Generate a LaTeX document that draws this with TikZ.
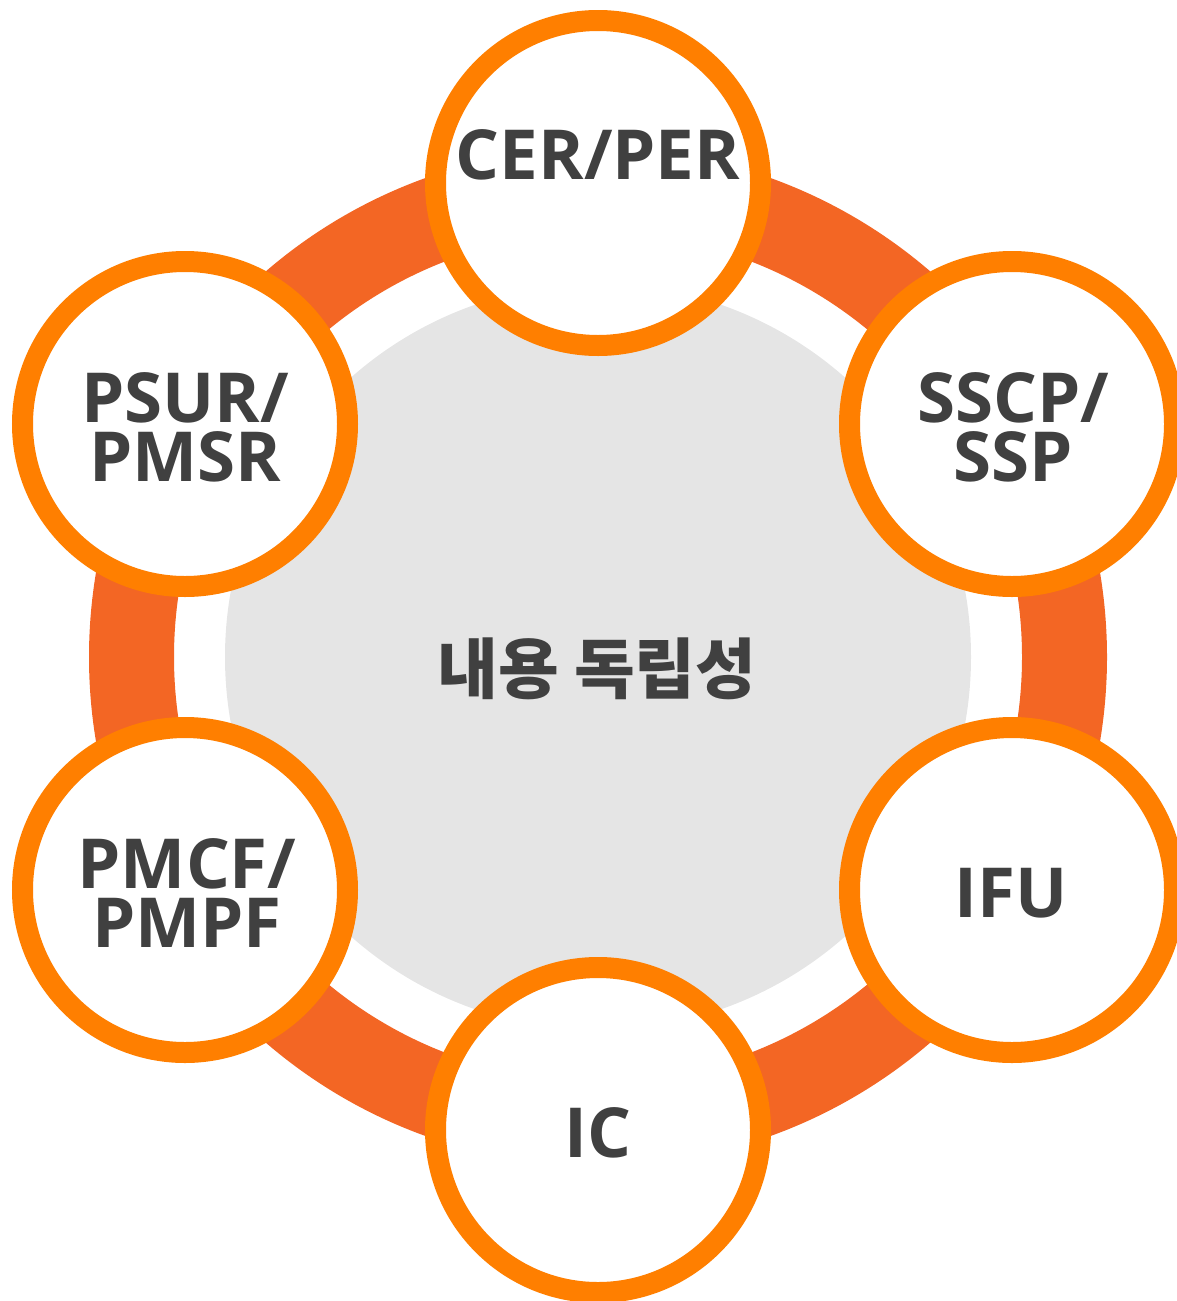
\documentclass[tikz,border=0pt]{standalone}
\usepackage{fontspec}
\setmainfont{Open Sans}
\newfontfamily\krfont{Noto Sans CJK KR}
\definecolor{ringc}{HTML}{F36624}
\definecolor{bubc}{HTML}{FF7F00}
\definecolor{grayc}{HTML}{E5E5E5}
\definecolor{txtc}{HTML}{404040}
\begin{document}
\begin{tikzpicture}[x=1pt,y=-1pt,
  bubble/.style={circle, draw=bubc, line width=21pt, fill=white, minimum size=325pt, inner sep=0pt},
  lbl/.style={text=txtc, font=\fontsize{69}{59}\selectfont\bfseries, align=center, inner sep=0pt},
  corelbl/.style={text=txtc, font=\krfont\bfseries\fontsize{66}{66}\selectfont, inner sep=0pt}]
\useasboundingbox (0,0) rectangle (1177,1301);
\clip (0,0) rectangle (1177,1301);
\node[circle, fill=grayc, minimum size=746pt, inner sep=0pt] (core) at (598,657) {};
\node[circle, draw=ringc, line width=85pt, minimum size=933pt, inner sep=0pt] (ring) at (598,657) {};
\node[bubble] (cer) at (598,183) {};
\node[bubble] (sscp) at (1012,424) {};
\node[bubble] (ifu) at (1012,890) {};
\node[bubble] (ic) at (598,1130) {};
\node[bubble] (pmcf) at (185,890) {};
\node[bubble] (psur) at (185,424) {};
\node[lbl, anchor=base] (tcer) at (598,179) {CER/PER};
\node[lbl, anchor=base] (tsscp) at (1013,481) {SSCP/\\SSP};
\node[lbl, anchor=base] (tifu) at (1011,917) {IFU};
\node[lbl, anchor=base] (tic) at (598,1157) {IC};
\node[lbl, anchor=base] (tpmcf) at (187,947) {PMCF/\\PMPF};
\node[lbl, anchor=base] (tpsur) at (185,481) {PSUR/\\PMSR};
\node[corelbl, anchor=base] (tcore) at (597,693) {내용 독립성};
\end{tikzpicture}
\end{document}
